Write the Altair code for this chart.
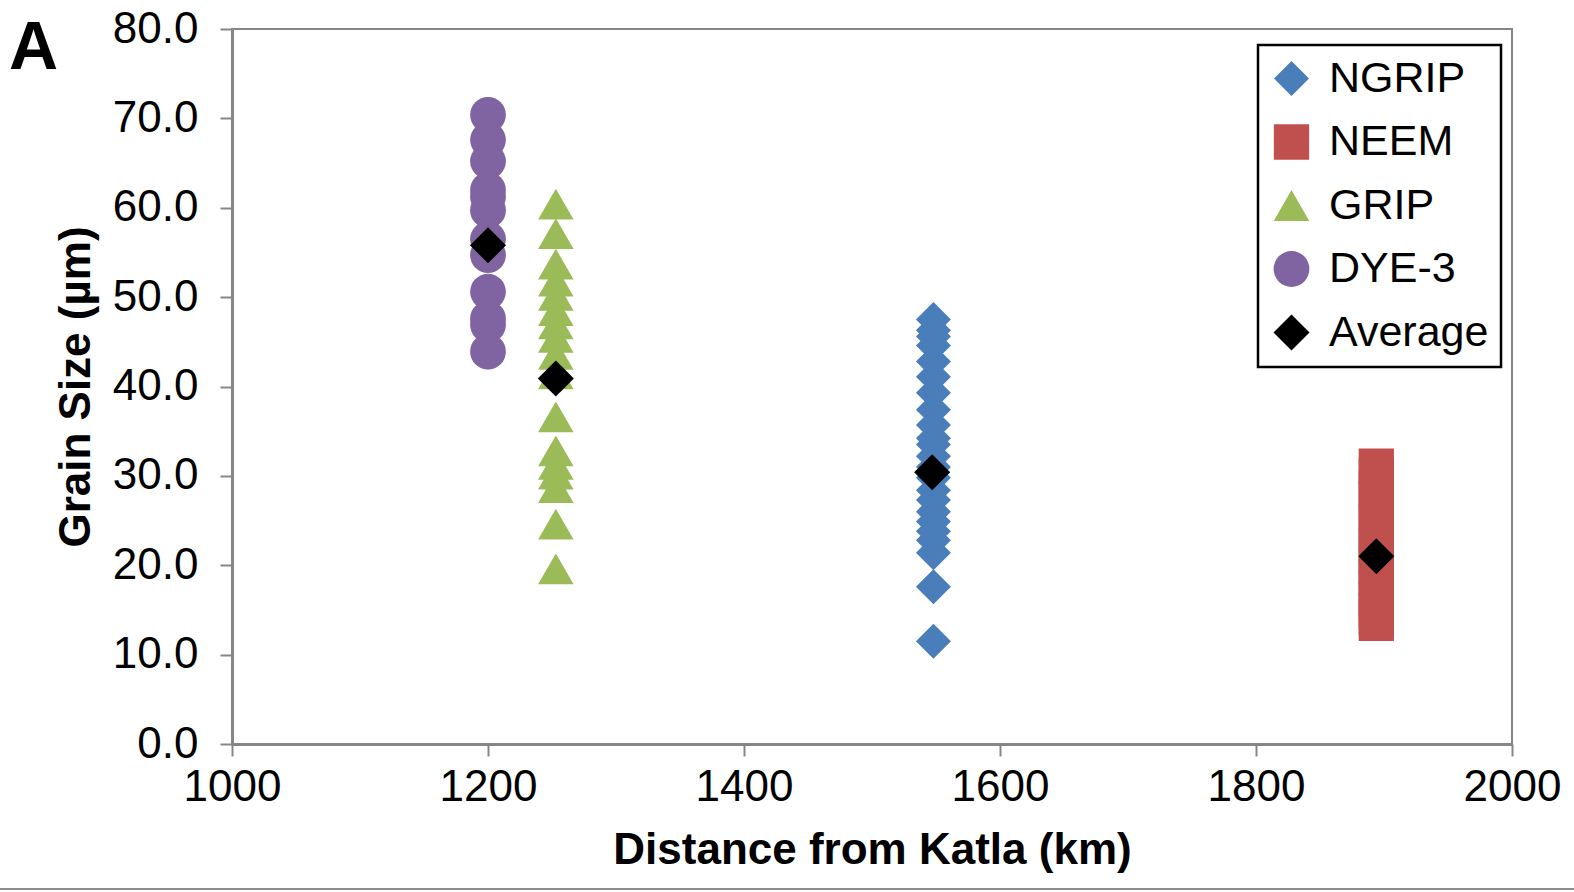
import altair as alt
import pandas as pd

# ---- data ----
series_order = ["NGRIP", "NEEM", "GRIP", "DYE-3", "Average"]
series_colors = ["#4a7ebb", "#c0504d", "#9bbb59", "#8064a2", "#000000"]
series_shapes = ["diamond", "square", "triangle-up", "circle", "diamond"]
series_sizes = [1225, 1300, 1225, 1225, 1600]

dist_ngrip = 1548
dist_neem = 1894
dist_grip = 1253
dist_dye3 = 1200

dye3_values = [70.4, 67.6, 65.2, 62.0, 61.2, 59.7, 56.5, 54.7, 50.6, 47.6, 46.9, 43.9]
grip_values = [60.4, 57.1, 53.7, 51.8, 50.2, 48.5, 47.0, 45.5, 43.6, 41.4, 36.6,
               32.8, 31.3, 30.2, 28.7, 24.6, 19.6]
ngrip_values = [47.5, 46.3, 45.6, 44.6, 42.8, 41.1, 39.3, 37.4, 35.7, 34.2, 33.5,
                32.2, 31.0, 29.8, 28.4, 27.3, 26.0, 24.9, 23.8, 22.8, 21.4, 17.6, 11.5]
neem_values = [31.1, 30.0, 28.6, 27.4, 26.0, 24.8, 23.5, 22.2, 21.0, 19.8, 18.6,
               17.4, 16.2, 15.0, 14.2, 13.5]

avg_dist = [1200, 1253, 1547, 1894]
avg_values = [55.8, 40.9, 30.4, 21.0]

x_ticks = [1000, 1200, 1400, 1600, 1800, 2000]
y_ticks = [0, 10, 20, 30, 40, 50, 60, 70, 80]

# ---- build table (averages last so they draw on top) ----
rows = []
for v in dye3_values:
    rows.append({"series": "DYE-3", "dist": dist_dye3, "size": v})
for v in grip_values:
    rows.append({"series": "GRIP", "dist": dist_grip, "size": v})
for v in ngrip_values:
    rows.append({"series": "NGRIP", "dist": dist_ngrip, "size": v})
for v in neem_values:
    rows.append({"series": "NEEM", "dist": dist_neem, "size": v})
for d, v in zip(avg_dist, avg_values):
    rows.append({"series": "Average", "dist": d, "size": v})
df = pd.DataFrame(rows)

FONT = "Liberation Sans"
GRAY = "#868686"

legend = alt.Legend(
    title=None,
    orient="none",
    legendX=1026,
    legendY=16,
    labelFontSize=43,
    labelFont=FONT,
    labelColor="black",
    padding=12,
    rowPadding=19.5,
    labelOffset=16,
    fillColor="white",
    strokeColor="black",
)

points = alt.Chart(df).mark_point(filled=True, opacity=1, strokeWidth=0).encode(
    x=alt.X(
        "dist:Q",
        scale=alt.Scale(domain=[1000, 2000], nice=False, zero=False),
        axis=alt.Axis(
            values=x_ticks,
            format="d",
            title="Distance from Katla (km)",
            grid=False,
            tickSize=12,
            tickWidth=2,
            tickColor=GRAY,
            domainColor=GRAY,
            domainWidth=3,
            labelFontSize=44,
            labelFont=FONT,
            labelColor="black",
            labelPadding=9,
            labelFlush=False,
            labelOverlap=False,
            titleFontSize=44,
            titleFont=FONT,
            titleFontWeight="bold",
            titleColor="black",
            titlePadding=19,
        ),
    ),
    y=alt.Y(
        "size:Q",
        scale=alt.Scale(domain=[0, 80], nice=False),
        axis=alt.Axis(
            values=y_ticks,
            format=".1f",
            title="Grain Size (µm)",
            grid=False,
            tickSize=12,
            tickWidth=2,
            tickColor=GRAY,
            domainColor=GRAY,
            domainWidth=3,
            labelFontSize=44,
            labelFont=FONT,
            labelColor="black",
            labelPadding=22,
            labelOverlap=False,
            titleFontSize=44,
            titleFont=FONT,
            titleFontWeight="bold",
            titleColor="black",
            titlePadding=14,
        ),
    ),
    color=alt.Color("series:N", scale=alt.Scale(domain=series_order, range=series_colors), legend=legend),
    shape=alt.Shape("series:N", scale=alt.Scale(domain=series_order, range=series_shapes), legend=legend),
    size=alt.Size("series:N", scale=alt.Scale(domain=series_order, range=series_sizes), legend=legend),
)

border = alt.Chart(pd.DataFrame({"k": [0]})).mark_rule(color="#8c8c8c", strokeWidth=2).encode(
    x=alt.value(-232), x2=alt.value(1342), y=alt.value(860)
)

chart = alt.layer(points, border).properties(
    width=1280,
    height=715,
    padding={"left": 232, "top": 29, "right": 62, "bottom": 148},
    autosize=alt.AutoSizeParams(type="none"),
    title=alt.TitleParams(
        "A",
        anchor="start",
        frame="group",
        fontSize=68,
        font=FONT,
        fontWeight="bold",
        color="black",
        dx=-223,
        dy=76,
        offset=0,
    ),
).configure_view(stroke=GRAY, strokeWidth=2).configure_legend(strokeWidth=2.5)

chart.save("out.html", embed_options={"renderer": "svg", "actions": False})
